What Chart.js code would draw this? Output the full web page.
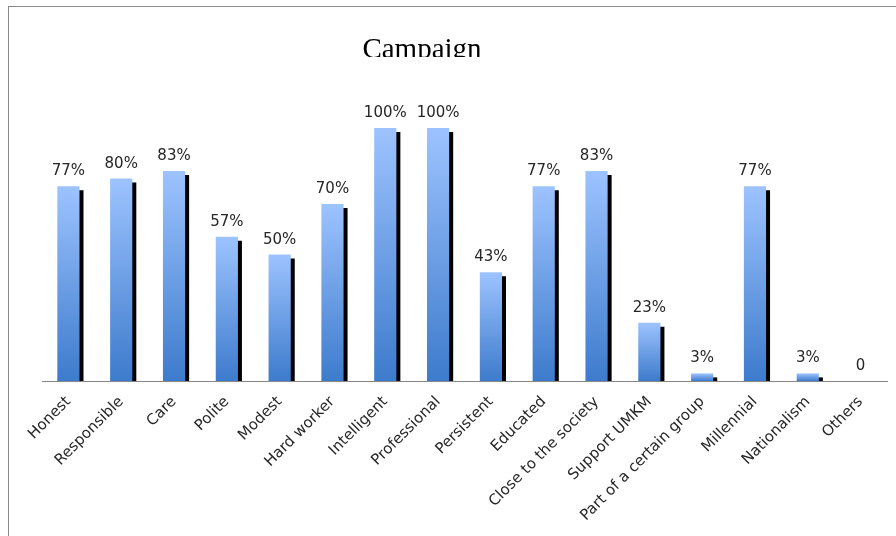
<!DOCTYPE html>
<html>
<head>
<meta charset="utf-8">
<script src="https://cdn.jsdelivr.net/npm/chart.js@4.4.1/dist/chart.umd.min.js"></script>
<style>
  html, body { margin: 0; padding: 0; background: #fff; }
  #wrap { position: relative; width: 896px; height: 536px; overflow: hidden; }
  #frame { position: absolute; left: 8px; top: 6px; right: 0; bottom: 0;
           border-top: 1px solid #8a8a8a; border-left: 1px solid #8a8a8a; }
  #mycanvas { position: absolute; left: 0; top: 0; }
</style>
</head>
<body>
<div id="wrap">
  <div id="frame"></div>
  <canvas id="mycanvas" width="896" height="536"></canvas>
</div>
<script>
var titleText = "Campaign";

var traits = [
  "Honest", "Responsible", "Care", "Polite", "Modest", "Hard worker",
  "Intelligent", "Professional", "Persistent", "Educated",
  "Close to the society", "Support UMKM", "Part of a certain group",
  "Millennial", "Nationalism", "Others"
];

var percent = [77, 80, 83, 57, 50, 70, 100, 100, 43, 77, 83, 23, 3, 77, 3, 0];

// vertical gradient per bar, light at the top, darker at the base
function barFill(context) {
  var chart = context.chart;
  if (!chart.chartArea || context.type !== "data") return "#6f9fe6";
  var y = chart.scales.y;
  var top = y.getPixelForValue(context.raw);
  var bottom = y.getPixelForValue(0);
  if (bottom - top < 1) return "#6f9fe6";
  var g = chart.ctx.createLinearGradient(0, top, 0, bottom);
  g.addColorStop(0, "#9dc3ff");
  g.addColorStop(1, "#3d7bcc");
  return g;
}

// hard black drop shadow behind the bars
var barShadow = {
  id: "barShadow",
  beforeDatasetDraw: function(chart) {
    var ctx = chart.ctx;
    ctx.save();
    ctx.shadowColor = "#000";
    ctx.shadowBlur = 0;
    ctx.shadowOffsetX = 4;
    ctx.shadowOffsetY = 4;
  },
  afterDatasetDraw: function(chart) {
    chart.ctx.restore();
  }
};

// value labels above each bar
var valueLabels = {
  id: "valueLabels",
  afterDatasetsDraw: function(chart) {
    var ctx = chart.ctx;
    var meta = chart.getDatasetMeta(0);
    ctx.save();
    ctx.font = "15px 'DejaVu Sans'";
    ctx.fillStyle = "#262626";
    ctx.textAlign = "center";
    ctx.textBaseline = "alphabetic";
    meta.data.forEach(function(bar, i) {
      var v = percent[i];
      var txt = v === 0 ? "0" : v + "%";
      ctx.fillText(txt, bar.x, bar.y - 11);
    });
    ctx.restore();
  }
};

// serif title, cut off along its baseline
var clippedTitle = {
  id: "clippedTitle",
  afterDraw: function(chart) {
    var ctx = chart.ctx;
    ctx.save();
    ctx.beginPath();
    ctx.rect(0, 0, chart.width, 57);
    ctx.clip();
    ctx.font = "29px 'Liberation Serif'";
    ctx.fillStyle = "#000";
    ctx.textAlign = "center";
    ctx.textBaseline = "alphabetic";
    ctx.fillText(titleText, 422, 58);
    ctx.restore();
  }
};

var ctx = document.getElementById("mycanvas");

var chart = new Chart(ctx, {
  type: "bar",
  data: {
    labels: traits,
    datasets: [{
      label: titleText,
      data: percent,
      backgroundColor: barFill,
      borderWidth: 0,
      categoryPercentage: 1,
      barPercentage: 0.42
    }]
  },
  options: {
    responsive: false,
    animation: false,
    events: [],
    layout: { padding: { left: 42, right: 9, top: 128, bottom: 0 } },
    plugins: {
      legend: { display: false },
      title: { display: false },
      tooltip: { enabled: false }
    },
    scales: {
      x: {
        z: 1,
        grid: { display: false },
        border: { display: true, color: "#868686", width: 1 },
        ticks: {
          autoSkip: false,
          maxRotation: 45,
          minRotation: 45,
          color: "#262626",
          font: { family: "DejaVu Sans", size: 15 },
          padding: 4
        },
        afterFit: function(scale) { scale.height = 155; }
      },
      y: {
        display: false,
        min: 0,
        max: 100
      }
    }
  },
  plugins: [barShadow, valueLabels, clippedTitle]
});
</script>
</body>
</html>
